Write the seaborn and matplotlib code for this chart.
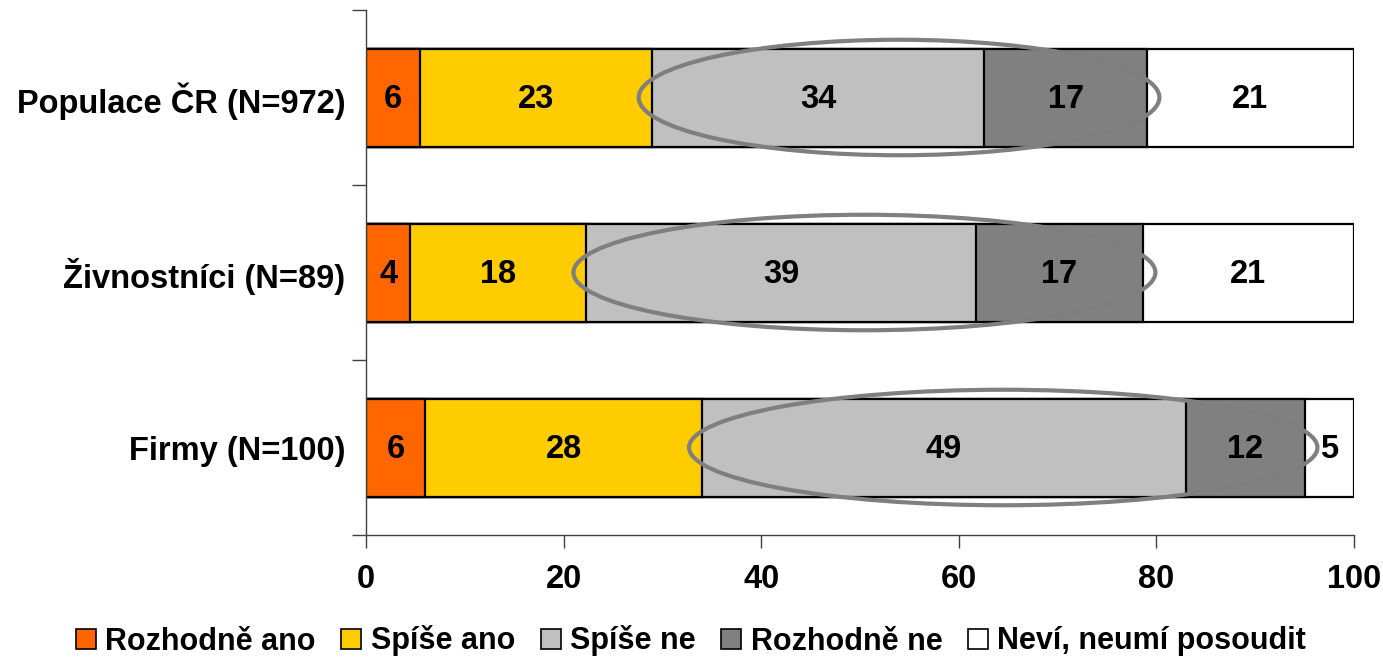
import numpy as np
import pandas as pd
import matplotlib
matplotlib.use("Agg")
import matplotlib.pyplot as plt
from matplotlib.patches import Patch, Ellipse
import seaborn as sns

# ---- data ----
categories = ["Populace ČR (N=972)", "Živnostníci (N=89)", "Firmy (N=100)"]
series = ["Rozhodně ano", "Spíše ano", "Spíše ne", "Rozhodně ne", "Neví, neumí posoudit"]
rozhodne_ano = [5.5, 4.5, 6.0]
spise_ano = [23.4, 17.8, 28.0]
spise_ne = [33.7, 39.4, 49.0]
rozhodne_ne = [16.4, 16.9, 12.0]
nevi = [21.0, 21.4, 5.0]
# displayed (rounded) labels
label_rozhodne_ano = [6, 4, 6]
label_spise_ano = [23, 18, 28]
label_spise_ne = [34, 39, 49]
label_rozhodne_ne = [17, 17, 12]
label_nevi = [21, 21, 5]
xticks = [0, 20, 40, 60, 80, 100]
colors = ["#FF6600", "#FFCC00", "#C0C0C0", "#808080", "#FFFFFF"]

values = [rozhodne_ano, spise_ano, spise_ne, rozhodne_ne, nevi]
labels = [label_rozhodne_ano, label_spise_ano, label_spise_ne, label_rozhodne_ne, label_nevi]

sns.set_style("white")
plt.rcParams["font.family"] = ["Liberation Sans", "DejaVu Sans"]
plt.rcParams["font.weight"] = "bold"
plt.rcParams["text.color"] = "black"
plt.rcParams["xtick.color"] = "black"
plt.rcParams["ytick.color"] = "black"
plt.rcParams["xtick.labelcolor"] = "black"
plt.rcParams["ytick.labelcolor"] = "black"

FS = 23.5

fig = plt.figure(figsize=(13.83, 6.61), dpi=100)
ax = fig.add_axes([366 / 1383, 1 - 535 / 661, (1354 - 366) / 1383, (535 - 10) / 661])

vals = np.array(values)  # series x categories
cum = np.cumsum(vals, axis=0)
starts = cum - vals

bar_h = 0.56
# draw cumulative bars from the largest down so each segment shows
for i in range(len(series) - 1, -1, -1):
    df = pd.DataFrame({"cat": categories, "val": cum[i]})
    sns.barplot(data=df, y="cat", x="val", orient="h", color=colors[i],
                saturation=1, width=bar_h, edgecolor="black", linewidth=1.6,
                ax=ax, zorder=2)

# segment labels
for i in range(len(series)):
    for j in range(len(categories)):
        ax.text(starts[i, j] + vals[i, j] / 2, j + 0.01, str(labels[i][j]),
                ha="center", va="center", fontsize=FS, fontweight="bold",
                color="black", zorder=5)

# ellipses around "Spíše ne" + "Rozhodně ne"
for j in range(len(categories)):
    s = starts[2, j]
    w = vals[2, j] + vals[3, j]
    e = Ellipse((s + w / 2, j), w + 2.6, 0.66, fill=False,
                edgecolor="#7F7F7F", linewidth=3.0, zorder=4)
    ax.add_patch(e)

ax.set_xlim(0, 100)
ax.set_ylim(2.5, -0.5)
ax.set_xlabel("")
ax.set_ylabel("")
ax.set_xticks(xticks)
ax.set_xticklabels([str(t) for t in xticks], fontsize=FS, fontweight="bold")
ax.tick_params(axis="x", direction="out", length=9, width=1, color="#404040", pad=12, bottom=True)

# y: boundary ticks (major, no labels), centered labels (minor, no tick marks)
ax.set_yticks([-0.5, 0.5, 1.5, 2.5])
ax.set_yticklabels([])
ax.set_yticks(range(len(categories)), minor=True)
ax.set_yticklabels(categories, minor=True, fontsize=FS, fontweight="bold")
ax.tick_params(axis="y", which="major", direction="out", length=10, width=1, color="#404040", left=True)
ax.tick_params(axis="y", which="minor", length=0, pad=15)

for side in ["top", "right"]:
    ax.spines[side].set_visible(False)
for side in ["left", "bottom"]:
    ax.spines[side].set_color("#404040")
    ax.spines[side].set_linewidth(1)
ax.grid(False)

handles = [Patch(facecolor=c, edgecolor="black", linewidth=1.2, label=s) for c, s in zip(colors, series)]
fig.legend(handles=handles, loc="center", bbox_to_anchor=(691 / 1383, 1 - 641 / 661),
           ncol=5, frameon=False, handlelength=0.65, handleheight=0.65,
           handletextpad=0.3, columnspacing=0.85, prop={"weight": "bold", "size": 22})

fig.savefig("out.png", dpi=100)
